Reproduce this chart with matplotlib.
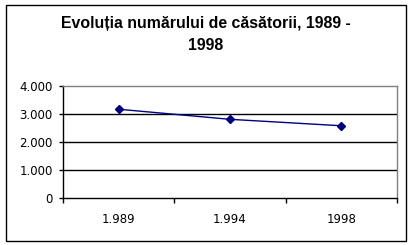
import numpy as np
import matplotlib.pyplot as plt
from matplotlib.patches import Rectangle

# datos del grafico
ani = ['1.989', '1.994', '1998']
casatorii = [3170, 2810, 2580]
y_ticks = [0, 1000, 2000, 3000, 4000]
y_labels = ['0', '1.000', '2.000', '3.000', '4.000']
titlu = ['Evoluția numărului de căsătorii, 1989 -', '1998']

W, H = 412, 245
fig = plt.figure(figsize=(W / 100, H / 100), dpi=100)
plt.rcParams['font.family'] = ['DejaVu Sans']

# marco exterior
fig.patches.append(Rectangle((5.5 / W, 1 - 240.5 / H), 400.5 / W, 235 / H,
                             transform=fig.transFigure, fill=False,
                             edgecolor='black', linewidth=1))

ax = fig.add_axes([63 / W, 1 - 198 / H, (397 - 63) / W, (198 - 86) / H])
x = np.arange(len(ani))
ax.plot(x, casatorii, color='#000080', linewidth=1, marker='D',
        markersize=4, markerfacecolor='#000080', markeredgecolor='#000080')

ax.set_xlim(-0.5, len(ani) - 0.5)
ax.set_ylim(0, 4000)
ax.set_yticks(y_ticks)
ax.set_yticklabels(y_labels, fontsize=8.5)
ax.set_xticks(x)
ax.set_xticklabels(ani, fontsize=8.5)
ax.tick_params(axis='x', length=0, pad=11)
ax.tick_params(axis='y', length=3, width=1, pad=4.3)
# marcas entre categorias
ax.set_xticks(np.arange(-0.5, len(ani), 1), minor=True)
ax.tick_params(axis='x', which='minor', length=3.5, width=1)

for v in y_ticks[1:-1]:
    ax.axhline(v, color='black', linewidth=1, zorder=0)

ax.spines['top'].set_color('#808080')
ax.spines['right'].set_color('#808080')
for s in ax.spines.values():
    s.set_linewidth(1)

fonta = {'family': ['Liberation Sans', 'DejaVu Sans'], 'weight': 'bold', 'size': 11.4}
fig.text(0.5, 1 - 28 / H, titlu[0], ha='center', va='baseline', fontdict=fonta)
fig.text(0.5, 1 - 50 / H, titlu[1], ha='center', va='baseline', fontdict=fonta)

fig.savefig('out.png', dpi=100)
